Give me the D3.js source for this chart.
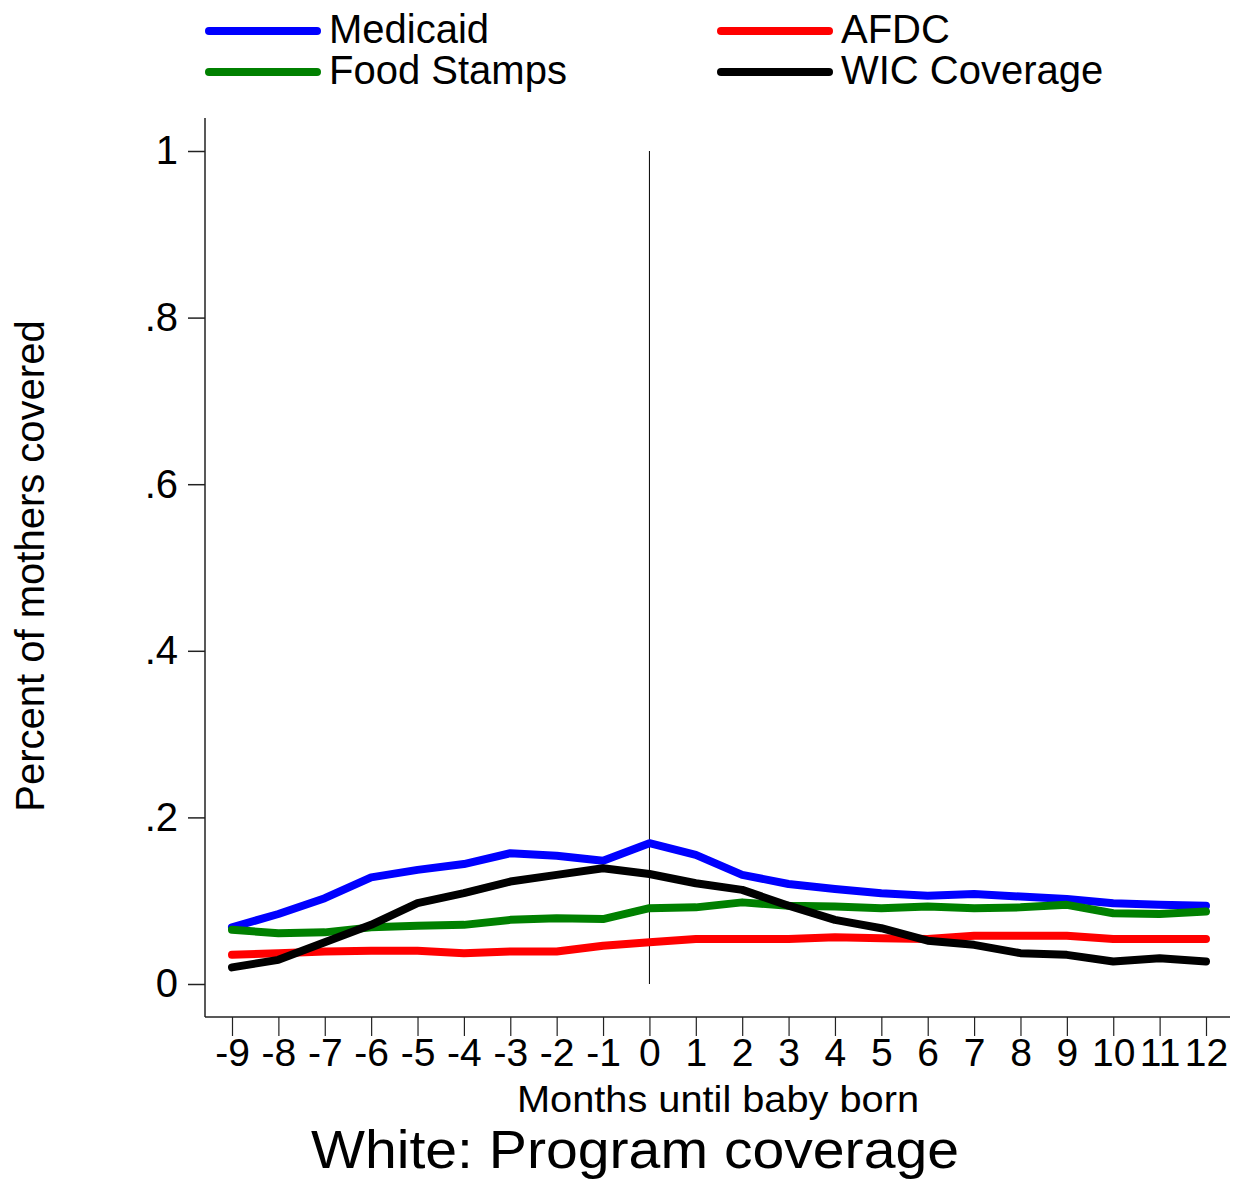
<!DOCTYPE html>
<html>
<head>
<meta charset="utf-8">
<script src="https://cdn.jsdelivr.net/npm/d3@7"></script>
<style>
  body { margin: 0; background: #fff; }
  text { font-family: "Liberation Sans", Arial, sans-serif; fill: #000; }
</style>
</head>
<body>
<svg id="chart" width="1236" height="1180"></svg>
<script>
// months relative to birth
var months = d3.range(-9, 13);
var yTicks = [0, 0.2, 0.4, 0.6, 0.8, 1];
var yTickLabels = ["0", ".2", ".4", ".6", ".8", "1"];

var medicaid = [0.068, 0.084, 0.103, 0.128, 0.137, 0.144, 0.157, 0.154, 0.148, 0.169,
                0.155, 0.131, 0.120, 0.114, 0.109, 0.106, 0.108, 0.105, 0.102, 0.097, 0.095, 0.094];
var afdc = [0.035, 0.037, 0.039, 0.040, 0.040, 0.037, 0.039, 0.039, 0.046, 0.050,
            0.054, 0.054, 0.054, 0.056, 0.055, 0.054, 0.058, 0.058, 0.058, 0.054, 0.054, 0.054];
var foodStamps = [0.065, 0.061, 0.062, 0.068, 0.070, 0.071, 0.077, 0.079, 0.078, 0.091,
                  0.092, 0.098, 0.094, 0.093, 0.091, 0.093, 0.091, 0.092, 0.095, 0.085, 0.084, 0.087];
var wic = [0.020, 0.029, 0.050, 0.071, 0.097, 0.109, 0.123, 0.131, 0.139, 0.132,
           0.121, 0.113, 0.094, 0.077, 0.067, 0.052, 0.047, 0.037, 0.035, 0.027, 0.031, 0.027];

var series = [
    {name: "Medicaid", color: "#0000ff", values: medicaid},
    {name: "AFDC", color: "#ff0000", values: afdc},
    {name: "Food Stamps", color: "#008000", values: foodStamps},
    {name: "WIC Coverage", color: "#000000", values: wic}
];

var svg = d3.select("#chart");

// scales
var x = d3.scaleLinear().domain([-9, 12]).range([232, 1206]);
var y = d3.scaleLinear().domain([0, 1]).range([984, 151]);

// axis frame
svg.append("line").attr("x1", 205).attr("x2", 205).attr("y1", 118).attr("y2", 1017)
    .attr("stroke", "#222").attr("stroke-width", 1.5);
svg.append("line").attr("x1", 205).attr("x2", 1230).attr("y1", 1017).attr("y2", 1017)
    .attr("stroke", "#222").attr("stroke-width", 1.5);

// y axis
var yAxis = svg.append("g")
    .attr("transform", "translate(205,0)")
    .call(d3.axisLeft(y).tickValues(yTicks).tickSize(17).tickPadding(10)
        .tickFormat(function (d, i) { return yTickLabels[i]; }));
yAxis.select(".domain").remove();
yAxis.selectAll(".tick line").attr("stroke", "#222").attr("stroke-width", 1.5);
yAxis.selectAll("text").attr("font-size", 40).attr("font-family", "Liberation Sans, Arial, sans-serif")
    .attr("fill", "#000");

// x axis (plain hyphen for negatives)
var xAxis = svg.append("g")
    .attr("transform", "translate(0,1017)")
    .call(d3.axisBottom(x).tickValues(months).tickSize(19).tickPadding(2)
        .tickFormat(function (d) { return String(d); }));
xAxis.select(".domain").remove();
xAxis.selectAll(".tick line").attr("stroke", "#222").attr("stroke-width", 1.2);
xAxis.selectAll("text").attr("font-size", 39).attr("font-family", "Liberation Sans, Arial, sans-serif")
    .attr("fill", "#000");

// reference line at birth
svg.append("line").attr("x1", x(0)).attr("x2", x(0)).attr("y1", y(1)).attr("y2", y(0))
    .attr("stroke", "#000").attr("stroke-width", 1);

// series lines
var line = d3.line()
    .x(function (d, i) { return x(months[i]); })
    .y(function (d) { return y(d); });

svg.append("g").selectAll("path")
    .data(series)
    .enter().append("path")
    .attr("d", function (d) { return line(d.values); })
    .attr("fill", "none")
    .attr("stroke", function (d) { return d.color; })
    .attr("stroke-width", 8)
    .attr("stroke-linejoin", "round")
    .attr("stroke-linecap", "round");

// legend
var legendPos = [
    {x: 209, y: 31}, {x: 721, y: 31},
    {x: 209, y: 72}, {x: 721, y: 72}
];
var legend = svg.append("g").selectAll("g")
    .data(series)
    .enter().append("g")
    .attr("transform", function (d, i) { return "translate(" + legendPos[i].x + "," + legendPos[i].y + ")"; });
legend.append("line")
    .attr("x1", 0).attr("x2", 108).attr("y1", 0).attr("y2", 0)
    .attr("stroke", function (d) { return d.color; })
    .attr("stroke-width", 8)
    .attr("stroke-linecap", "round");
legend.append("text")
    .attr("x", 120).attr("y", 12)
    .attr("font-size", 40)
    .text(function (d) { return d.name; });

// axis titles
svg.append("text")
    .attr("x", 718).attr("y", 1112)
    .attr("text-anchor", "middle").attr("font-size", 36)
    .attr("textLength", 402).attr("lengthAdjust", "spacingAndGlyphs")
    .text("Months until baby born");
svg.append("text")
    .attr("transform", "translate(44,566) rotate(-90)")
    .attr("text-anchor", "middle").attr("font-size", 40)
    .text("Percent of mothers covered");

// title
svg.append("text")
    .attr("x", 635).attr("y", 1168)
    .attr("text-anchor", "middle").attr("font-size", 54)
    .attr("textLength", 648).attr("lengthAdjust", "spacingAndGlyphs")
    .text("White: Program coverage");
</script>
</body>
</html>
